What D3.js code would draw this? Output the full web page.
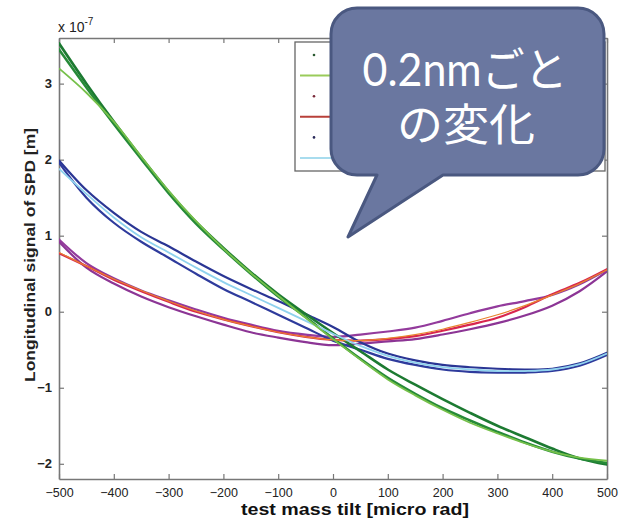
<!DOCTYPE html>
<html>
<head>
<meta charset="utf-8">
<script src="https://cdn.jsdelivr.net/npm/d3@7"></script>
<style>
  html, body { margin: 0; padding: 0; background: #fff; }
  svg { display: block; }
</style>
</head>
<body>
<svg id="chart" width="623" height="520"></svg>
<script>
// Tilt sweep positions [micro rad]
const tilt = [-500, -450, -400, -350, -300, -250, -200, -150, -100, -50, 0,
              50, 100, 150, 200, 250, 300, 350, 400, 450, 500];

// Longitudinal SPD signal, units of 1e-7 m
const greenSweepA = [3.53, 3.00, 2.50, 2.03, 1.58, 1.18, 0.84, 0.52, 0.23, -0.03, -0.28,
                     -0.52, -0.76, -0.96, -1.15, -1.33, -1.50, -1.65, -1.80, -1.93, -2.01];
const greenSweepB = [3.45, 2.95, 2.47, 2.01, 1.56, 1.16, 0.82, 0.50, 0.20, -0.07, -0.35,
                     -0.62, -0.87, -1.08, -1.27, -1.43, -1.58, -1.72, -1.84, -1.93, -1.99];
const greenFit    = [3.20, 2.88, 2.50, 2.04, 1.59, 1.19, 0.83, 0.51, 0.21, -0.08, -0.36,
                     -0.63, -0.89, -1.10, -1.29, -1.46, -1.60, -1.73, -1.84, -1.92, -1.96];

const blueSweepA  = [1.99, 1.60, 1.30, 1.05, 0.86, 0.66, 0.47, 0.30, 0.14, -0.03, -0.20,
                     -0.40, -0.55, -0.64, -0.70, -0.73, -0.75, -0.76, -0.75, -0.68, -0.54];
const blueSweepB  = [1.96, 1.50, 1.17, 0.92, 0.71, 0.50, 0.30, 0.13, -0.04, -0.21, -0.38,
                     -0.50, -0.62, -0.70, -0.76, -0.79, -0.80, -0.80, -0.78, -0.71, -0.57];
const blueFit     = [1.88, 1.55, 1.24, 0.98, 0.78, 0.58, 0.39, 0.22, 0.05, -0.12, -0.29,
                     -0.45, -0.58, -0.67, -0.73, -0.76, -0.78, -0.78, -0.76, -0.69, -0.55];

const redSweep    = [0.77, 0.60, 0.42, 0.27, 0.13, 0.00, -0.10, -0.19, -0.27, -0.33, -0.37,
                     -0.38, -0.36, -0.32, -0.25, -0.17, -0.08, 0.06, 0.23, 0.38, 0.56];
const purpleUp    = [0.95, 0.64, 0.44, 0.28, 0.15, 0.03, -0.08, -0.17, -0.25, -0.30, -0.33,
                     -0.30, -0.26, -0.21, -0.12, -0.02, 0.07, 0.14, 0.22, 0.36, 0.55];
const purpleDown  = [0.92, 0.58, 0.37, 0.20, 0.06, -0.06, -0.17, -0.27, -0.34, -0.40, -0.44,
                     -0.42, -0.39, -0.36, -0.30, -0.23, -0.15, -0.05, 0.08, 0.27, 0.53];
const redFit      = [0.78, 0.60, 0.43, 0.28, 0.14, 0.01, -0.10, -0.19, -0.27, -0.33, -0.37,
                     -0.38, -0.35, -0.30, -0.23, -0.14, -0.04, 0.08, 0.22, 0.37, 0.55];

// Axis ticks
const xTicks = [-500, -400, -300, -200, -100, 0, 100, 200, 300, 400, 500];
const yTicks = [-2, -1, 0, 1, 2, 3];

const svg = d3.select("#chart");
const pLeft = 59, pRight = 607, pTop = 38, pBottom = 479;

const x = d3.scaleLinear().domain([-500, 500]).range([pLeft, pRight]);
const y = d3.scaleLinear().domain([-2.2, 3.6]).range([pBottom, pTop]);

const defs = svg.append("defs");
defs.append("clipPath").attr("id", "plotClip")
  .append("rect").attr("x", pLeft).attr("y", pTop)
  .attr("width", pRight - pLeft).attr("height", pBottom - pTop);

// slight wobble on the measured sweeps
const rough = defs.append("filter").attr("id", "rough")
  .attr("x", "-5%").attr("y", "-5%").attr("width", "110%").attr("height", "110%");
rough.append("feTurbulence").attr("type", "fractalNoise")
  .attr("baseFrequency", "0.3").attr("numOctaves", 1).attr("seed", 4).attr("result", "n");
rough.append("feDisplacementMap").attr("in", "SourceGraphic").attr("in2", "n")
  .attr("scale", 1.3).attr("xChannelSelector", "R").attr("yChannelSelector", "G");

const axisColor = "#777";
const textColor = "#222";
const font = "'Liberation Sans', Arial, sans-serif";

// Axes: bottom/left with labels, top/right as the box with inward ticks
const tickLen = 5;
const gx = svg.append("g").attr("transform", `translate(0,${pBottom})`)
  .call(d3.axisBottom(x).tickValues(xTicks).tickSizeInner(-tickLen).tickSizeOuter(0).tickPadding(9)
        .tickFormat(d3.format("d")));
const gy = svg.append("g").attr("transform", `translate(${pLeft},0)`)
  .call(d3.axisLeft(y).tickValues(yTicks).tickSizeInner(-tickLen).tickSizeOuter(0).tickPadding(7)
        .tickFormat(d3.format("d")));
const gxt = svg.append("g").attr("transform", `translate(0,${pTop})`)
  .call(d3.axisTop(x).tickValues(xTicks).tickSizeInner(-tickLen).tickSizeOuter(0).tickFormat(""));
const gyr = svg.append("g").attr("transform", `translate(${pRight},0)`)
  .call(d3.axisRight(y).tickValues(yTicks).tickSizeInner(-tickLen).tickSizeOuter(0).tickFormat(""));

[gx, gy, gxt, gyr].forEach(g => {
  g.select(".domain").attr("stroke", axisColor).attr("stroke-width", 1.6);
  g.selectAll(".tick line").attr("stroke", axisColor).attr("stroke-width", 1.2);
  g.selectAll(".tick text").attr("fill", textColor)
    .style("font-family", font).style("font-size", "13px").style("font-weight", "bold");
});
gx.selectAll(".tick text").style("font-weight", "normal").style("font-size", "12.5px");

// exponent label
const expo = svg.append("text").attr("x", pLeft - 1).attr("y", 32)
  .attr("fill", textColor).style("font-family", font).style("font-size", "14px");
expo.append("tspan").text("x 10");
expo.append("tspan").attr("dy", -7).style("font-size", "10px").text("-7");

// Axis titles
svg.append("text")
  .attr("transform", `translate(35,255) rotate(-90)`)
  .attr("text-anchor", "middle").attr("fill", textColor)
  .attr("textLength", 254).attr("lengthAdjust", "spacingAndGlyphs")
  .style("font-family", font).style("font-size", "15px").style("font-weight", "bold")
  .text("Longitudinal signal of SPD [m]");
svg.append("text")
  .attr("x", 355).attr("y", 515).attr("text-anchor", "middle").attr("fill", "#111")
  .attr("textLength", 228).attr("lengthAdjust", "spacingAndGlyphs")
  .style("font-family", font).style("font-size", "17px").style("font-weight", "bold")
  .text("test mass tilt [micro rad]");

// Curves
const line = d3.line().x((d, i) => x(tilt[i])).y(d => y(d)).curve(d3.curveCatmullRom.alpha(0.5));
const plot = svg.append("g").attr("clip-path", "url(#plotClip)");

const sweeps = [
  { v: purpleDown, c: "#8c3595", w: 2.2 },
  { v: purpleUp,   c: "#933a9c", w: 2.2 },
  { v: redSweep,   c: "#d8284f", w: 2.2 },
  { v: blueSweepA, c: "#2a3694", w: 2.2 },
  { v: blueSweepB, c: "#2e3a9c", w: 2.2 },
  { v: greenSweepA, c: "#1d7a30", w: 2.6 },
  { v: greenSweepB, c: "#258a38", w: 2.6 }
];
const fits = [
  { v: redFit,   c: "#e8842e", w: 1.2 },
  { v: blueFit,  c: "#8fd2ee", w: 1.8 },
  { v: greenFit, c: "#76c04a", w: 1.8 }
];

const sweepG = plot.append("g").attr("filter", "url(#rough)");
sweepG.selectAll("path").data(sweeps).join("path")
  .attr("d", d => line(d.v)).attr("fill", "none")
  .attr("stroke", d => d.c).attr("stroke-width", d => d.w)
  .attr("stroke-linejoin", "round").attr("stroke-linecap", "round");
plot.append("g").selectAll("path").data(fits).join("path")
  .attr("d", d => line(d.v)).attr("fill", "none")
  .attr("stroke", d => d.c).attr("stroke-width", d => d.w);

// Legend box
const legend = svg.append("g");
legend.append("rect").attr("x", 295).attr("y", 42).attr("width", 310).attr("height", 129)
  .attr("fill", "#fff").attr("stroke", "#666").attr("stroke-width", 1.3);
const legendRows = [
  { kind: "dot", c: "#2a5a30" }, { kind: "line", c: "#9acb5a" },
  { kind: "dot", c: "#7a2a3a" }, { kind: "line", c: "#b8403a" },
  { kind: "dot", c: "#2a2a5a" }, { kind: "line", c: "#a8dcee" }
];
legendRows.forEach((r, i) => {
  const yy = 55 + i * 20.6;
  if (r.kind === "dot") {
    legend.append("circle").attr("cx", 314).attr("cy", yy).attr("r", 1.3).attr("fill", r.c);
  } else {
    legend.append("line").attr("x1", 300).attr("x2", 340).attr("y1", yy).attr("y2", yy)
      .attr("stroke", r.c).attr("stroke-width", 2);
  }
});

// Callout bubble
const bx0 = 331, bx1 = 604, by0 = 8, by1 = 175, rr = 26;
const bubble = d3.path();
bubble.moveTo(bx0 + rr, by0);
bubble.lineTo(bx1 - rr, by0);
bubble.arcTo(bx1, by0, bx1, by0 + rr, rr);
bubble.lineTo(bx1, by1 - rr);
bubble.arcTo(bx1, by1, bx1 - rr, by1, rr);
bubble.lineTo(443, by1);
bubble.lineTo(348, 237);
bubble.lineTo(377, by1);
bubble.lineTo(bx0 + rr, by1);
bubble.arcTo(bx0, by1, bx0, by1 - rr, rr);
bubble.lineTo(bx0, by0 + rr);
bubble.arcTo(bx0, by0, bx0 + rr, by0, rr);
bubble.closePath();
svg.append("path").attr("d", bubble.toString())
  .attr("fill", "#6a77a0").attr("stroke", "#4a5880").attr("stroke-width", 3)
  .attr("stroke-linejoin", "round");

const calloutFont = "Lato, 'Noto Sans CJK JP', sans-serif";
svg.append("text").attr("x", 465).attr("y", 86).attr("text-anchor", "middle")
  .attr("fill", "#fff").attr("textLength", 205).attr("lengthAdjust", "spacingAndGlyphs")
  .style("font-family", calloutFont).style("font-size", "46px")
  .text("0.2nmごと");
svg.append("text").attr("x", 466).attr("y", 141).attr("text-anchor", "middle")
  .attr("fill", "#fff").attr("textLength", 138).attr("lengthAdjust", "spacingAndGlyphs")
  .style("font-family", calloutFont).style("font-size", "44px")
  .text("の変化");
</script>
</body>
</html>
